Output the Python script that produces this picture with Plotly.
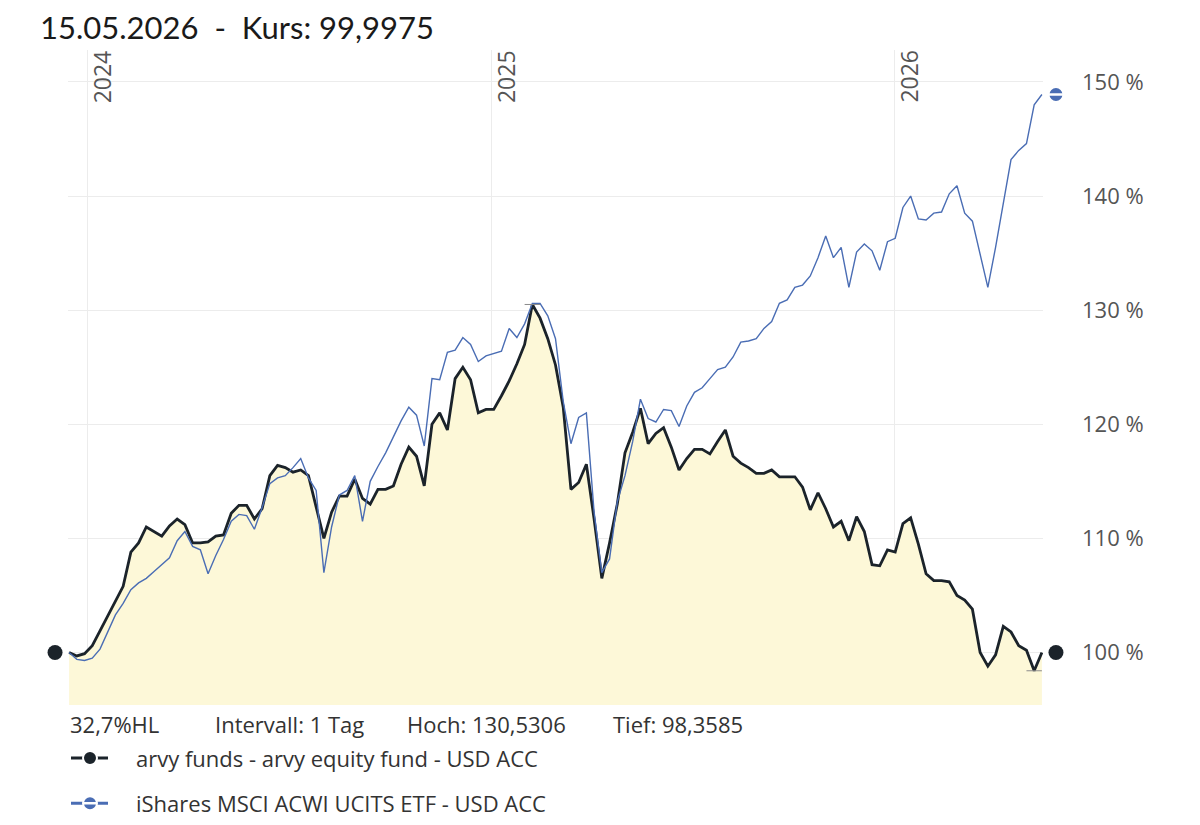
import pandas as pd
import plotly.graph_objects as go

dates = pd.date_range("2023-12-15", periods=127, freq="7D")

arvy = [100.0, 99.7, 99.9, 100.6, 101.9, 103.2, 104.5, 105.8, 108.8, 109.6,
        111.0, 110.6, 110.2, 111.1, 111.7, 111.2, 109.6, 109.6, 109.7, 110.2,
        110.3, 112.2, 112.9, 112.9, 111.7, 112.6, 115.5, 116.4, 116.2, 115.8,
        116.0, 115.5, 112.8, 110.0, 112.3, 113.7, 113.7, 115.2, 113.5, 113.0,
        114.3, 114.3, 114.6, 116.5, 118.0, 117.2, 114.6, 120.0, 121.0, 119.5,
        124.0, 125.0, 123.9, 121.0, 121.3, 121.3, 122.5, 123.8, 125.3, 127.0,
        130.5, 129.3, 127.5, 125.2, 121.5, 114.3, 114.9, 116.5, 111.7, 106.5,
        109.6, 113.0, 117.5, 119.3, 121.4, 118.3, 119.2, 119.7, 118.0, 116.0,
        117.0, 117.8, 117.8, 117.4, 118.5, 119.5, 117.2, 116.6, 116.2, 115.7,
        115.7, 116.0, 115.4, 115.4, 115.4, 114.5, 112.5, 114.0, 112.6, 111.0,
        111.5, 109.8, 111.9, 110.6, 107.7, 107.6, 109.0, 108.8, 111.3, 111.8,
        109.5, 106.9, 106.3, 106.3, 106.2, 105.0, 104.6, 103.8, 100.0, 98.8,
        99.8, 102.3, 101.8, 100.6, 100.2, 98.4, 100.0]

ishares = [100.0, 99.4, 99.3, 99.5, 100.3, 101.8, 103.3, 104.3, 105.5, 106.1,
           106.5, 107.1, 107.7, 108.3, 109.8, 110.6, 109.3, 109.0, 106.9, 108.5,
           109.9, 111.5, 112.1, 112.0, 110.8, 112.7, 114.8, 115.3, 115.5, 116.2,
           117.0, 115.3, 114.2, 107.0, 111.0, 113.8, 114.2, 115.5, 111.5, 115.0,
           116.3, 117.5, 118.9, 120.3, 121.5, 120.8, 118.1, 124.0, 123.9, 126.3,
           126.5, 127.6, 127.0, 125.5, 126.0, 126.2, 126.4, 128.4, 127.6, 128.8,
           130.6, 130.6, 129.5, 127.5, 122.0, 118.3, 120.6, 121.0, 112.3, 107.0,
           108.2, 113.2, 115.5, 118.5, 122.2, 120.5, 120.2, 121.3, 121.2, 119.8,
           121.6, 122.8, 123.2, 124.0, 124.8, 125.0, 125.9, 127.2, 127.3, 127.5,
           128.4, 129.0, 130.6, 130.9, 132.0, 132.2, 133.0, 134.6, 136.5, 134.6,
           135.5, 132.0, 135.1, 135.8, 135.2, 133.5, 136.0, 136.3, 139.0, 140.0,
           138.0, 137.9, 138.5, 138.6, 140.2, 140.9, 138.5, 137.8, 135.0, 132.0,
           135.5, 139.2, 143.2, 144.0, 144.6, 148.0, 148.9]

year_ticks = ["2024-01-01", "2025-01-01", "2026-01-01"]
year_labels = ["2024", "2025", "2026"]
y_ticks = [100, 110, 120, 130, 140, 150]
y_labels = [f"{v} %" for v in y_ticks]

titel = "15.05.2026  -  Kurs: 99,9975"
info = ["32,7%HL", "Intervall: 1 Tag", "Hoch: 130,5306", "Tief: 98,3585"]
namen = ["arvy funds - arvy equity fund - USD ACC",
         "iShares MSCI ACWI UCITS ETF - USD ACC"]

schwarz = "#1b232a"
blau = "#4a6db4"
grau = "#555555"
schrift = "Open Sans"

fig = go.Figure()

# gelbe Fläche unter der Fondslinie
fig.add_trace(go.Scatter(x=dates, y=arvy, mode="lines", line=dict(width=0),
                         fill="tozeroy", fillcolor="#fdf8d8",
                         hoverinfo="skip", showlegend=False))

fig.add_trace(go.Scatter(x=dates, y=arvy, mode="lines",
                         line=dict(color=schwarz, width=2.8),
                         name=namen[0], showlegend=False))
fig.add_trace(go.Scatter(x=dates, y=ishares, mode="lines",
                         line=dict(color=blau, width=1.4),
                         name=namen[1], showlegend=False))

# Hoch / Tief Markierung
i_max = arvy.index(max(arvy))
i_min = arvy.index(min(arvy))
for i in [i_max, i_min]:
    j0 = max(i - 1, 0)
    j1 = min(i + 1, len(dates) - 1)
    fig.add_trace(go.Scatter(x=[dates[j0], dates[j1]], y=[arvy[i], arvy[i]],
                             mode="lines", line=dict(color="#8a8a8a", width=1),
                             hoverinfo="skip", showlegend=False))

# Jahreslabels oben im Chart
for d, t in zip(year_ticks, year_labels):
    fig.add_annotation(x=d, xref="x", y=1, yref="paper", text=t,
                       textangle=-90, showarrow=False, xanchor="left",
                       yanchor="top", xshift=-4, yshift=2,
                       font=dict(family=schrift, size=23, color=grau))

# Punkte links und rechts neben dem Plot
def punkt(xp, yv, farbe, r):
    fig.add_shape(type="circle", xref="paper", yref="y",
                  xsizemode="pixel", ysizemode="pixel",
                  xanchor=xp, yanchor=yv, x0=-r, x1=r, y0=-r, y1=r,
                  fillcolor=farbe, line=dict(width=0))

punkt(-0.0133, arvy[0], schwarz, 7.5)
punkt(1.0133, arvy[-1], schwarz, 7.5)
punkt(1.0133, ishares[-1], blau, 6.5)
fig.add_shape(type="line", xref="paper", yref="y", xsizemode="pixel",
              ysizemode="pixel", xanchor=1.0133, yanchor=ishares[-1],
              x0=-7, x1=7, y0=0, y1=0, line=dict(color="white", width=2.5))

# Infozeile unter dem Chart
info_x = [0.0, 0.149, 0.346, 0.557]
for xp, t in zip(info_x, info):
    fig.add_annotation(x=xp, xref="paper", y=-0.029, yref="paper", text=t,
                       showarrow=False, xanchor="left", yanchor="middle",
                       font=dict(family=schrift, size=22, color="#333333"))

# Legende von Hand
leg_y = [-0.081, -0.150]
leg_farben = [schwarz, blau]
for ly, name, farbe in zip(leg_y, namen, leg_farben):
    fig.add_shape(type="line", xref="paper", yref="paper", xsizemode="pixel",
                  ysizemode="pixel", xanchor=0.0, yanchor=ly,
                  x0=3, x1=40, y0=0, y1=0, line=dict(color=farbe, width=3))
    fig.add_shape(type="circle", xref="paper", yref="paper", xsizemode="pixel",
                  ysizemode="pixel", xanchor=0.0, yanchor=ly,
                  x0=15, x1=29, y0=-7, y1=7, fillcolor=farbe,
                  line=dict(color="white", width=2))
    fig.add_annotation(x=0.0677, xref="paper", y=ly, yref="paper", text=name,
                       showarrow=False, xanchor="left", yanchor="middle",
                       font=dict(family=schrift, size=22, color="#333333"))
fig.add_shape(type="line", xref="paper", yref="paper", xsizemode="pixel",
              ysizemode="pixel", xanchor=0.0, yanchor=leg_y[1],
              x0=16, x1=28, y0=0, y1=0, line=dict(color="white", width=2.5))

# Seite hat 8px Rand, daher Ränder entsprechend kleiner
fig.update_layout(
    width=1200, height=825,
    paper_bgcolor="white", plot_bgcolor="white",
    margin=dict(l=60, r=165, t=42, b=128),
    title=dict(text=titel, x=0.0267, xanchor="left", y=0.9758,
               yanchor="middle",
               font=dict(family="Lato", size=31, color="#1a1a1a")),
    showlegend=False,
)
fig.update_xaxes(range=["2023-12-14", "2026-05-16"], tickvals=year_ticks,
                 showticklabels=False, showgrid=True, gridcolor="#ececec",
                 gridwidth=1, zeroline=False, showline=False, ticks="")
fig.update_yaxes(range=[95.4, 152.8], side="right", tickvals=y_ticks,
                 ticktext=y_labels, showgrid=True, gridcolor="#ececec",
                 zeroline=False, showline=False, ticks="",
                 ticklabelstandoff=38,
                 tickfont=dict(family=schrift, size=22, color=grau))

fig.write_html("out.html")
